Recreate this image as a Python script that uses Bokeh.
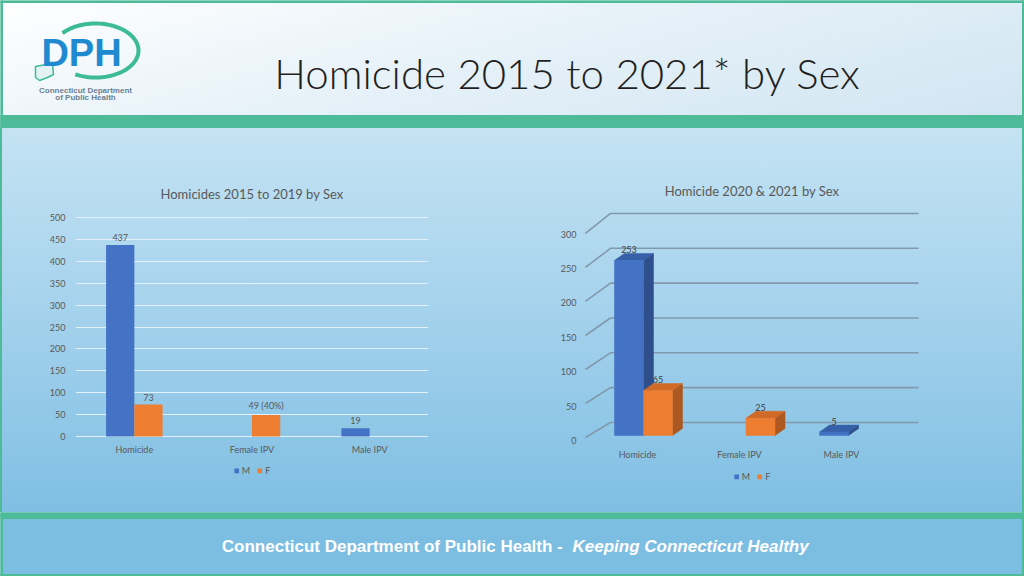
import numpy as np
from bokeh.plotting import figure
from bokeh.layouts import row, column
from bokeh.models import (ColumnDataSource, FactorRange, Range1d, LinearAxis, FixedTicker,
                          Legend, LegendItem, Spacer)
from bokeh.transform import dodge
from bokeh.core.properties import value
from bokeh.embed import file_html
from bokeh.resources import INLINE

# ---------------- data ----------------
categories = ["Homicide", "Female IPV", "Male IPV"]
series_names = ["M", "F"]
# Homicides 2015 to 2019 by Sex (None = no bar)
male_2015_2019 = [437, None, 19]
female_2015_2019 = [73, 49, None]
label_male_2015_2019 = ["437", "", "19"]
label_female_2015_2019 = ["73", "49 (40%)", ""]
# Homicide 2020 & 2021 by Sex
male_2020_2021 = [253, None, 5]
female_2020_2021 = [65, 25, None]
label_male_2020_2021 = ["253", "", "5"]
label_female_2020_2021 = ["65", "25", ""]
ticks_2015_2019 = [0, 50, 100, 150, 200, 250, 300, 350, 400, 450, 500]
ticks_2020_2021 = [0, 50, 100, 150, 200, 250, 300]

slide_title = "Homicide 2015 to 2021* by Sex"
title_left = "Homicides 2015 to 2019 by Sex"
title_right = "Homicide 2020 & 2021 by Sex"
footer_main = "Connecticut Department of Public Health  -"
footer_tag = "Keeping Connecticut Healthy"
logo_text = "DPH"
logo_sub1 = "Connecticut Department"
logo_sub2 = "of Public Health"

# ---------------- styles ----------------
BLUE, BLUE_SIDE, BLUE_TOP = "#4472c4", "#2e4f8c", "#3660a8"
ORANGE, ORANGE_SIDE, ORANGE_TOP = "#ed7d31", "#ad5820", "#cf6a27"
GREEN = "#4dbb98"
FOOT = "#7cbee2"
TXT = "#595959"
FONT = "Lato"
MID_BG = "linear-gradient(to bottom, #c4e3f3 0%, #a3d1ec 50%, #7fbfe3 100%)"
# both chart frames share the same top/bottom borders (rows align frames)
B_TOP, B_BOTTOM, F_HEIGHT = 77, 20, 237
CHART_H = B_TOP + F_HEIGHT + B_BOTTOM
MID_H = 384


def style_axis(ax, standoff):
    ax.axis_line_color = None
    ax.major_tick_line_color = None
    ax.minor_tick_line_color = None
    ax.major_tick_out = 0
    ax.major_tick_in = 0
    ax.minor_tick_out = 0
    ax.minor_tick_in = 0
    ax.major_label_text_font_size = "9px"
    ax.major_label_text_font = FONT
    ax.major_label_text_color = TXT
    ax.major_label_standoff = standoff


def style_title(p, text, offset, standoff):
    p.title.text = text
    p.title.align = "center"
    p.title.text_font = FONT
    p.title.text_font_size = "13px"
    p.title.text_font_style = "normal"
    p.title.text_color = TXT
    p.title.offset = offset
    p.title.standoff = standoff


def legend_strip(width, height, left_pad):
    """A small transparent plot that only holds the M / F legend
    (its two swatch renderers sit outside the visible range)."""
    lf = figure(width=width, height=height, x_range=Range1d(0, 1), y_range=Range1d(0, 1),
                output_backend="svg", toolbar_location=None,
                min_border_left=left_pad, min_border_right=0, min_border_top=0, min_border_bottom=0,
                x_axis_location=None, y_axis_location=None, outline_line_color=None,
                background_fill_alpha=0, border_fill_alpha=0)
    for g in lf.grid:
        g.visible = False
    rm_ = lf.vbar(x=[-5], top=[-5], bottom=[-6], width=0.1, fill_color=BLUE, line_color=None)
    rf_ = lf.vbar(x=[-5], top=[-5], bottom=[-6], width=0.1, fill_color=ORANGE, line_color=None)
    leg = Legend(items=[LegendItem(label=series_names[0], renderers=[rm_]),
                        LegendItem(label=series_names[1], renderers=[rf_])],
                 orientation="horizontal", location="center",
                 glyph_width=6, glyph_height=6, label_text_font_size="9px",
                 label_text_font=FONT, label_text_color=TXT, label_height=9, label_width=5,
                 label_standoff=3, spacing=6, padding=0, margin=0,
                 background_fill_alpha=0, border_line_alpha=0)
    lf.add_layout(leg)
    return lf


# ---------------- header ----------------
ph = figure(width=1024, height=128, x_range=Range1d(0, 1024), y_range=Range1d(128, 0),
            output_backend="svg", toolbar_location=None, min_border=0,
            x_axis_location=None, y_axis_location=None, outline_line_color=None,
            background_fill_alpha=0, border_fill_alpha=0,
            styles={"background": "linear-gradient(165deg, #ffffff 0%, #e9f3f9 40%, #cfe4f1 100%)"})
ph.grid.visible = False
ph.quad(left=[0], right=[1024], top=[115], bottom=[128], color=GREEN)
ph.quad(left=[0], right=[1024], top=[0], bottom=[2], color=GREEN)
ph.quad(left=[0, 1022], right=[2, 1024], top=[0, 0], bottom=[128, 128], color=GREEN)
# logo ring
t = np.radians(np.linspace(140, -118, 80))
ph.line(x=95 + 43 * np.cos(t), y=50 - 27 * np.sin(t), line_color="#3dbb96", line_width=4)
ph.patch(x=[35, 46, 52, 53, 47, 39, 35], y=[66, 64, 63, 74, 77, 80, 77],
         fill_color="#e4f2f6", line_color="#3dbb96", line_width=1.5)
ph.text(x=[81], y=[52], text=[logo_text], text_font=value("Liberation Sans"),
        text_font_style="bold", text_font_size="38px", text_color="#1f8ad0",
        text_align="center", text_baseline="middle")
ph.text(x=[85, 85], y=[90, 97], text=[logo_sub1, logo_sub2], text_font=value("Liberation Sans"),
        text_font_style="bold", text_font_size="8px", text_color="#6b7f90",
        text_align="center", text_baseline="middle")
ph.text(x=[567], y=[72], text=[slide_title], text_font=value("'Lato Light', Lato"),
        text_font_size="42px", text_color="#1f1f1f", text_align="center", text_baseline="middle")

# ---------------- left chart ----------------
# frame spans 237 px; 0..500 occupies 219 px of it
pl = figure(width=450, height=CHART_H, frame_width=353, frame_height=F_HEIGHT,
            x_range=FactorRange(factors=categories), y_range=Range1d(-13.7, 527.4),
            output_backend="svg", toolbar_location=None,
            min_border_left=75, min_border_right=22, min_border_top=B_TOP, min_border_bottom=B_BOTTOM,
            background_fill_alpha=0, border_fill_alpha=0, outline_line_color=None)


def cat_source(vals, labels):
    keep = [i for i, v in enumerate(vals) if v is not None]
    return ColumnDataSource(dict(cat=[categories[i] for i in keep],
                                 val=[vals[i] for i in keep],
                                 lab=[labels[i] for i in keep]))


src_lm = cat_source(male_2015_2019, label_male_2015_2019)
src_lf = cat_source(female_2015_2019, label_female_2015_2019)
pl.vbar(x=dodge("cat", -0.12, range=pl.x_range), top="val", bottom=0, width=0.24,
        source=src_lm, fill_color=BLUE, line_color=None)
pl.vbar(x=dodge("cat", 0.12, range=pl.x_range), top="val", bottom=0, width=0.24,
        source=src_lf, fill_color=ORANGE, line_color=None)
for src, off in ((src_lm, -0.12), (src_lf, 0.12)):
    pl.text(x=dodge("cat", off, range=pl.x_range), y="val", text="lab", source=src,
            text_font=value(FONT), text_font_size="9px", text_color=TXT,
            text_align="center", text_baseline="bottom", y_offset=-4)
pl.xgrid.visible = False
pl.ygrid.ticker = FixedTicker(ticks=ticks_2015_2019)
pl.ygrid.grid_line_color = "#e6f1f8"
pl.ygrid.grid_line_alpha = 0.95
pl.yaxis.ticker = FixedTicker(ticks=ticks_2015_2019)
style_axis(pl.yaxis[0], 10)
style_axis(pl.xaxis[0], 1)
style_title(pl, title_left, -9, 8)

# ---------------- right chart (3-D look) ----------------
pr = figure(width=574, height=CHART_H, frame_width=337, frame_height=F_HEIGHT,
            x_range=Range1d(-0.585, 2.702), y_range=Range1d(-10.1, 332.4),
            output_backend="svg", toolbar_location=None,
            min_border_left=133, min_border_right=104, min_border_top=B_TOP, min_border_bottom=B_BOTTOM,
            x_axis_location=None, y_axis_location=None,
            background_fill_alpha=0, border_fill_alpha=0, outline_line_color=None)
for g in pr.grid:
    g.visible = False
pr.extra_y_ranges = {"wall": Range1d(-2.9, 341.6)}
pr.extra_x_ranges = {"cats": Range1d(-0.529, 2.775)}
yax = LinearAxis(y_range_name="wall", ticker=FixedTicker(ticks=ticks_2020_2021))
style_axis(yax, 7)
pr.add_layout(yax, "left")
xax = LinearAxis(x_range_name="cats", ticker=FixedTicker(ticks=list(range(len(categories)))),
                 major_label_overrides={i: c for i, c in enumerate(categories)})
style_axis(xax, 6)
pr.add_layout(xax, "below")

# walls: side wall diagonals + back wall lines at every tick
WALL_FRONT_X, WALL_BACK_X, WALL_END_X = -0.566, -0.322, 2.683
wall_xs, wall_ys = [], []
for v in ticks_2020_2021:
    yf = -2.9 + 0.983 * v
    yb = 18.8 + 1.007 * v
    wall_xs.append([WALL_FRONT_X, WALL_BACK_X, WALL_END_X])
    wall_ys.append([yf, yb, yb])
pr.multi_line(xs=wall_xs, ys=wall_ys, line_color="#8299ad", line_width=1.6)

BW, DX, DY = 0.283, 0.0976, 10.1


def bars3d(vals, labels, side, front, side_c, top_c):
    xs0, xs1, tops, labs = [], [], [], []
    for i, v in enumerate(vals):
        if v is None:
            continue
        x0 = i - BW if side < 0 else i
        xs0.append(x0)
        xs1.append(x0 + BW)
        tops.append(v)
        labs.append(labels[i])
    side_x = [[a1, a1 + DX, a1 + DX, a1] for a1 in xs1]
    side_y = [[0, DY, v + DY, v] for v in tops]
    top_x = [[a0, a0 + DX, a1 + DX, a1] for a0, a1 in zip(xs0, xs1)]
    top_y = [[v, v + DY, v + DY, v] for v in tops]
    pr.patches(xs=side_x, ys=side_y, fill_color=side_c, line_color=side_c, line_width=0.5)
    pr.patches(xs=top_x, ys=top_y, fill_color=top_c, line_color=top_c, line_width=0.5)
    pr.quad(left=xs0, right=xs1, bottom=[0] * len(tops), top=tops,
            fill_color=front, line_color=front, line_width=0.5)
    pr.text(x=[(a + b) / 2 for a, b in zip(xs0, xs1)], y=tops, text=labs,
            text_font=value(FONT), text_font_size="9px", text_color="#404040",
            text_align="center", text_baseline="middle", y_offset=-11)


bars3d(male_2020_2021, label_male_2020_2021, -1, BLUE, BLUE_SIDE, BLUE_TOP)
bars3d(female_2020_2021, label_female_2020_2021, 1, ORANGE, ORANGE_SIDE, ORANGE_TOP)
style_title(pr, title_right, -8, 14)

# legends (centred at x=243 and x=743 of the slide)
LEG_L_H, LEG_R_H = 16, 28
leg_l = legend_strip(450, LEG_L_H, 36)
leg_r = legend_strip(574, LEG_R_H, 12)
col_l = column(pl, leg_l, Spacer(width=450, height=MID_H - CHART_H - LEG_L_H))
col_r = column(pr, leg_r, Spacer(width=574, height=MID_H - CHART_H - LEG_R_H))
mid = row(col_l, col_r, styles={"background": MID_BG,
                                "box-shadow": "inset 2px 0 0 #4dbb98, inset -2px 0 0 #4dbb98"})

# ---------------- footer ----------------
pf = figure(width=1024, height=64, x_range=Range1d(0, 1024), y_range=Range1d(64, 0),
            output_backend="svg", toolbar_location=None, min_border=0,
            x_axis_location=None, y_axis_location=None, outline_line_color=None,
            background_fill_color=FOOT, border_fill_color=FOOT)
pf.grid.visible = False
pf.quad(left=[0], right=[1024], top=[0], bottom=[6], color=GREEN)
pf.quad(left=[0], right=[1024], top=[62], bottom=[64], color=GREEN)
pf.quad(left=[0, 1022], right=[2, 1024], top=[0, 0], bottom=[64, 64], color=GREEN)
pf.text(x=[567], y=[34], text=[footer_main], text_font=value("Liberation Sans"),
        text_font_style="bold", text_font_size="17px", text_color="white",
        text_align="right", text_baseline="middle")
pf.text(x=[572], y=[34], text=[footer_tag], text_font=value("Liberation Sans"),
        text_font_style="bold italic", text_font_size="17px", text_color="white",
        text_align="left", text_baseline="middle")

page = column(ph, mid, pf)
open("out.html", "w").write(file_html(page, INLINE))
